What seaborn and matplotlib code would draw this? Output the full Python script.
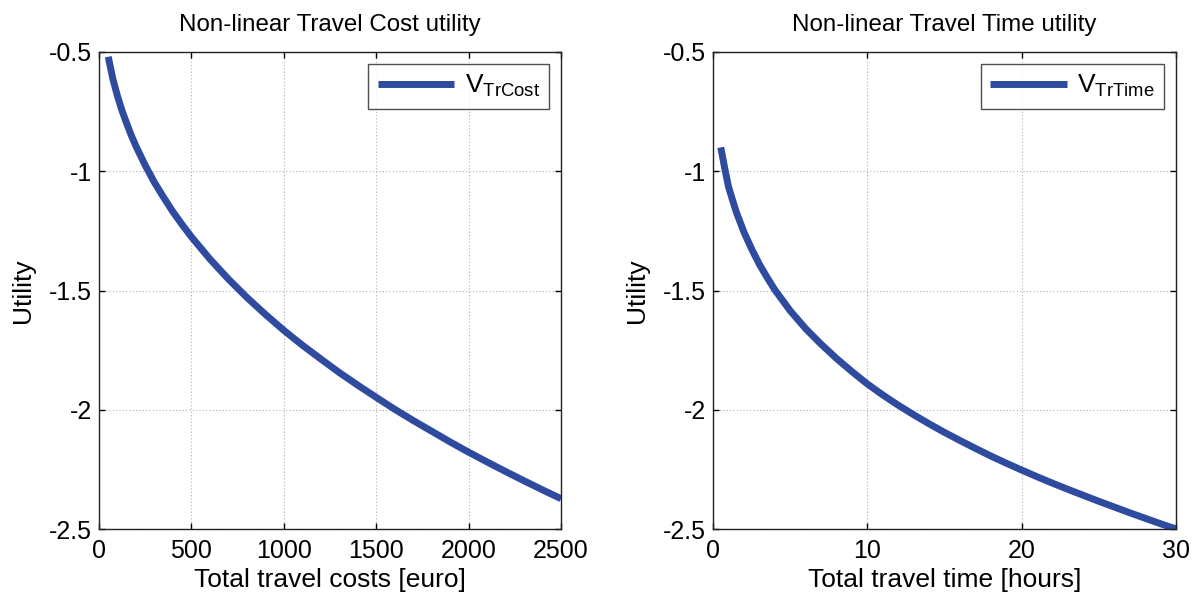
import matplotlib
matplotlib.use("Agg")
import matplotlib.pyplot as plt
import matplotlib.ticker as mticker
import seaborn as sns
import pandas as pd

# Travel cost utility curve
cost_euro = [50, 75, 100, 125, 150, 175, 200, 250, 300, 350, 400, 450, 500,
             600, 700, 800, 900, 1000, 1100, 1200, 1300, 1400, 1500, 1600,
             1700, 1800, 1900, 2000, 2100, 2200, 2300, 2400, 2500]
cost_utility = [-0.52, -0.613, -0.685, -0.747, -0.80, -0.85, -0.895, -0.975,
                -1.047, -1.11, -1.17, -1.224, -1.275, -1.368, -1.452, -1.529,
                -1.60, -1.667, -1.729, -1.787, -1.844, -1.897, -1.948, -1.998,
                -2.045, -2.09, -2.135, -2.178, -2.219, -2.259, -2.298, -2.336,
                -2.373]

# Travel time utility curve
time_hours = [0.5, 0.75, 1, 1.25, 1.5, 2, 2.5, 3, 3.5, 4, 5, 6, 7, 8, 9, 10,
              11, 12, 13, 14, 15, 16, 17, 18, 19, 20, 21, 22, 23, 24, 25, 26,
              27, 28, 29, 30]
time_utility = [-0.90, -0.985, -1.065, -1.118, -1.17, -1.255, -1.326, -1.39,
                -1.445, -1.497, -1.585, -1.66, -1.725, -1.785, -1.84, -1.892,
                -1.938, -1.981, -2.021, -2.059, -2.095, -2.129, -2.162, -2.194,
                -2.224, -2.253, -2.281, -2.308, -2.334, -2.359, -2.384, -2.408,
                -2.432, -2.455, -2.478, -2.50]

cost_ticks = [0, 500, 1000, 1500, 2000, 2500]
time_ticks = [0, 10, 20, 30]
utility_ticks = [-2.5, -2, -1.5, -1, -0.5]

sns.set_theme(style="white")
plt.rcParams["font.family"] = ["Liberation Sans", "DejaVu Sans"]
plt.rcParams["mathtext.fontset"] = "custom"
plt.rcParams["mathtext.rm"] = "Liberation Sans"
plt.rcParams["mathtext.it"] = "Liberation Sans"
plt.rcParams["axes.unicode_minus"] = False
plt.rcParams["text.color"] = "black"
plt.rcParams["axes.labelcolor"] = "black"
plt.rcParams["xtick.color"] = "black"
plt.rcParams["ytick.color"] = "black"

line_color = "#2E4BA0"

fig = plt.figure(figsize=(11.97, 5.97), dpi=100)
ax1 = fig.add_axes([0.0827, 0.1139, 0.386, 0.799])
ax2 = fig.add_axes([0.5957, 0.1139, 0.3868, 0.799])

panels = [
    (ax1, cost_euro, cost_utility, cost_ticks, (0, 2500),
     "Non-linear Travel Cost utility", "Total travel costs [euro]",
     r"V$_{\mathregular{TrCost}}$"),
    (ax2, time_hours, time_utility, time_ticks, (0, 30),
     "Non-linear Travel Time utility", "Total travel time [hours]",
     r"V$_{\mathregular{TrTime}}$"),
]

fmt = mticker.FuncFormatter(lambda v, p: "%g" % v)

for ax, xs, ys, xt, xlim, title, xlabel, label in panels:
    df = pd.DataFrame({"x": xs, "y": ys})
    sns.lineplot(data=df, x="x", y="y", ax=ax, color=line_color, lw=5,
                 label=label, solid_capstyle="butt", solid_joinstyle="round")
    ax.set_xlim(*xlim)
    ax.set_ylim(-2.5, -0.5)
    ax.set_xticks(xt)
    ax.set_yticks(utility_ticks)
    ax.xaxis.set_major_formatter(fmt)
    ax.yaxis.set_major_formatter(fmt)
    ax.grid(True, linestyle=(0, (1, 2)), color="#b0b0b0", lw=0.8)
    ax.tick_params(direction="in", length=4, width=1, color="black",
                   labelsize=18, top=True, right=True,
                   bottom=True, left=True, labelcolor="black")
    ax.tick_params(axis="x", pad=7)
    ax.tick_params(axis="y", pad=5)
    for s in ax.spines.values():
        s.set_color("#222222")
        s.set_linewidth(1)
    ax.set_title(title, fontsize=17.4, pad=15, color="black")
    ax.set_xlabel(xlabel, fontsize=19, labelpad=4, color="black")
    ax.set_ylabel("Utility", fontsize=19, labelpad=10, color="black")
    leg = ax.legend(loc="upper right", fontsize=19, frameon=True,
                    fancybox=False, handlelength=2.9, borderaxespad=0.45,
                    borderpad=0.35, handletextpad=0.4)
    leg.get_frame().set_edgecolor("#222222")
    leg.get_frame().set_linewidth(1)
    for t in leg.get_texts():
        t.set_color("black")
    for h in leg.get_lines():
        h.set_linewidth(5)

fig.savefig("out.png", dpi=100)
